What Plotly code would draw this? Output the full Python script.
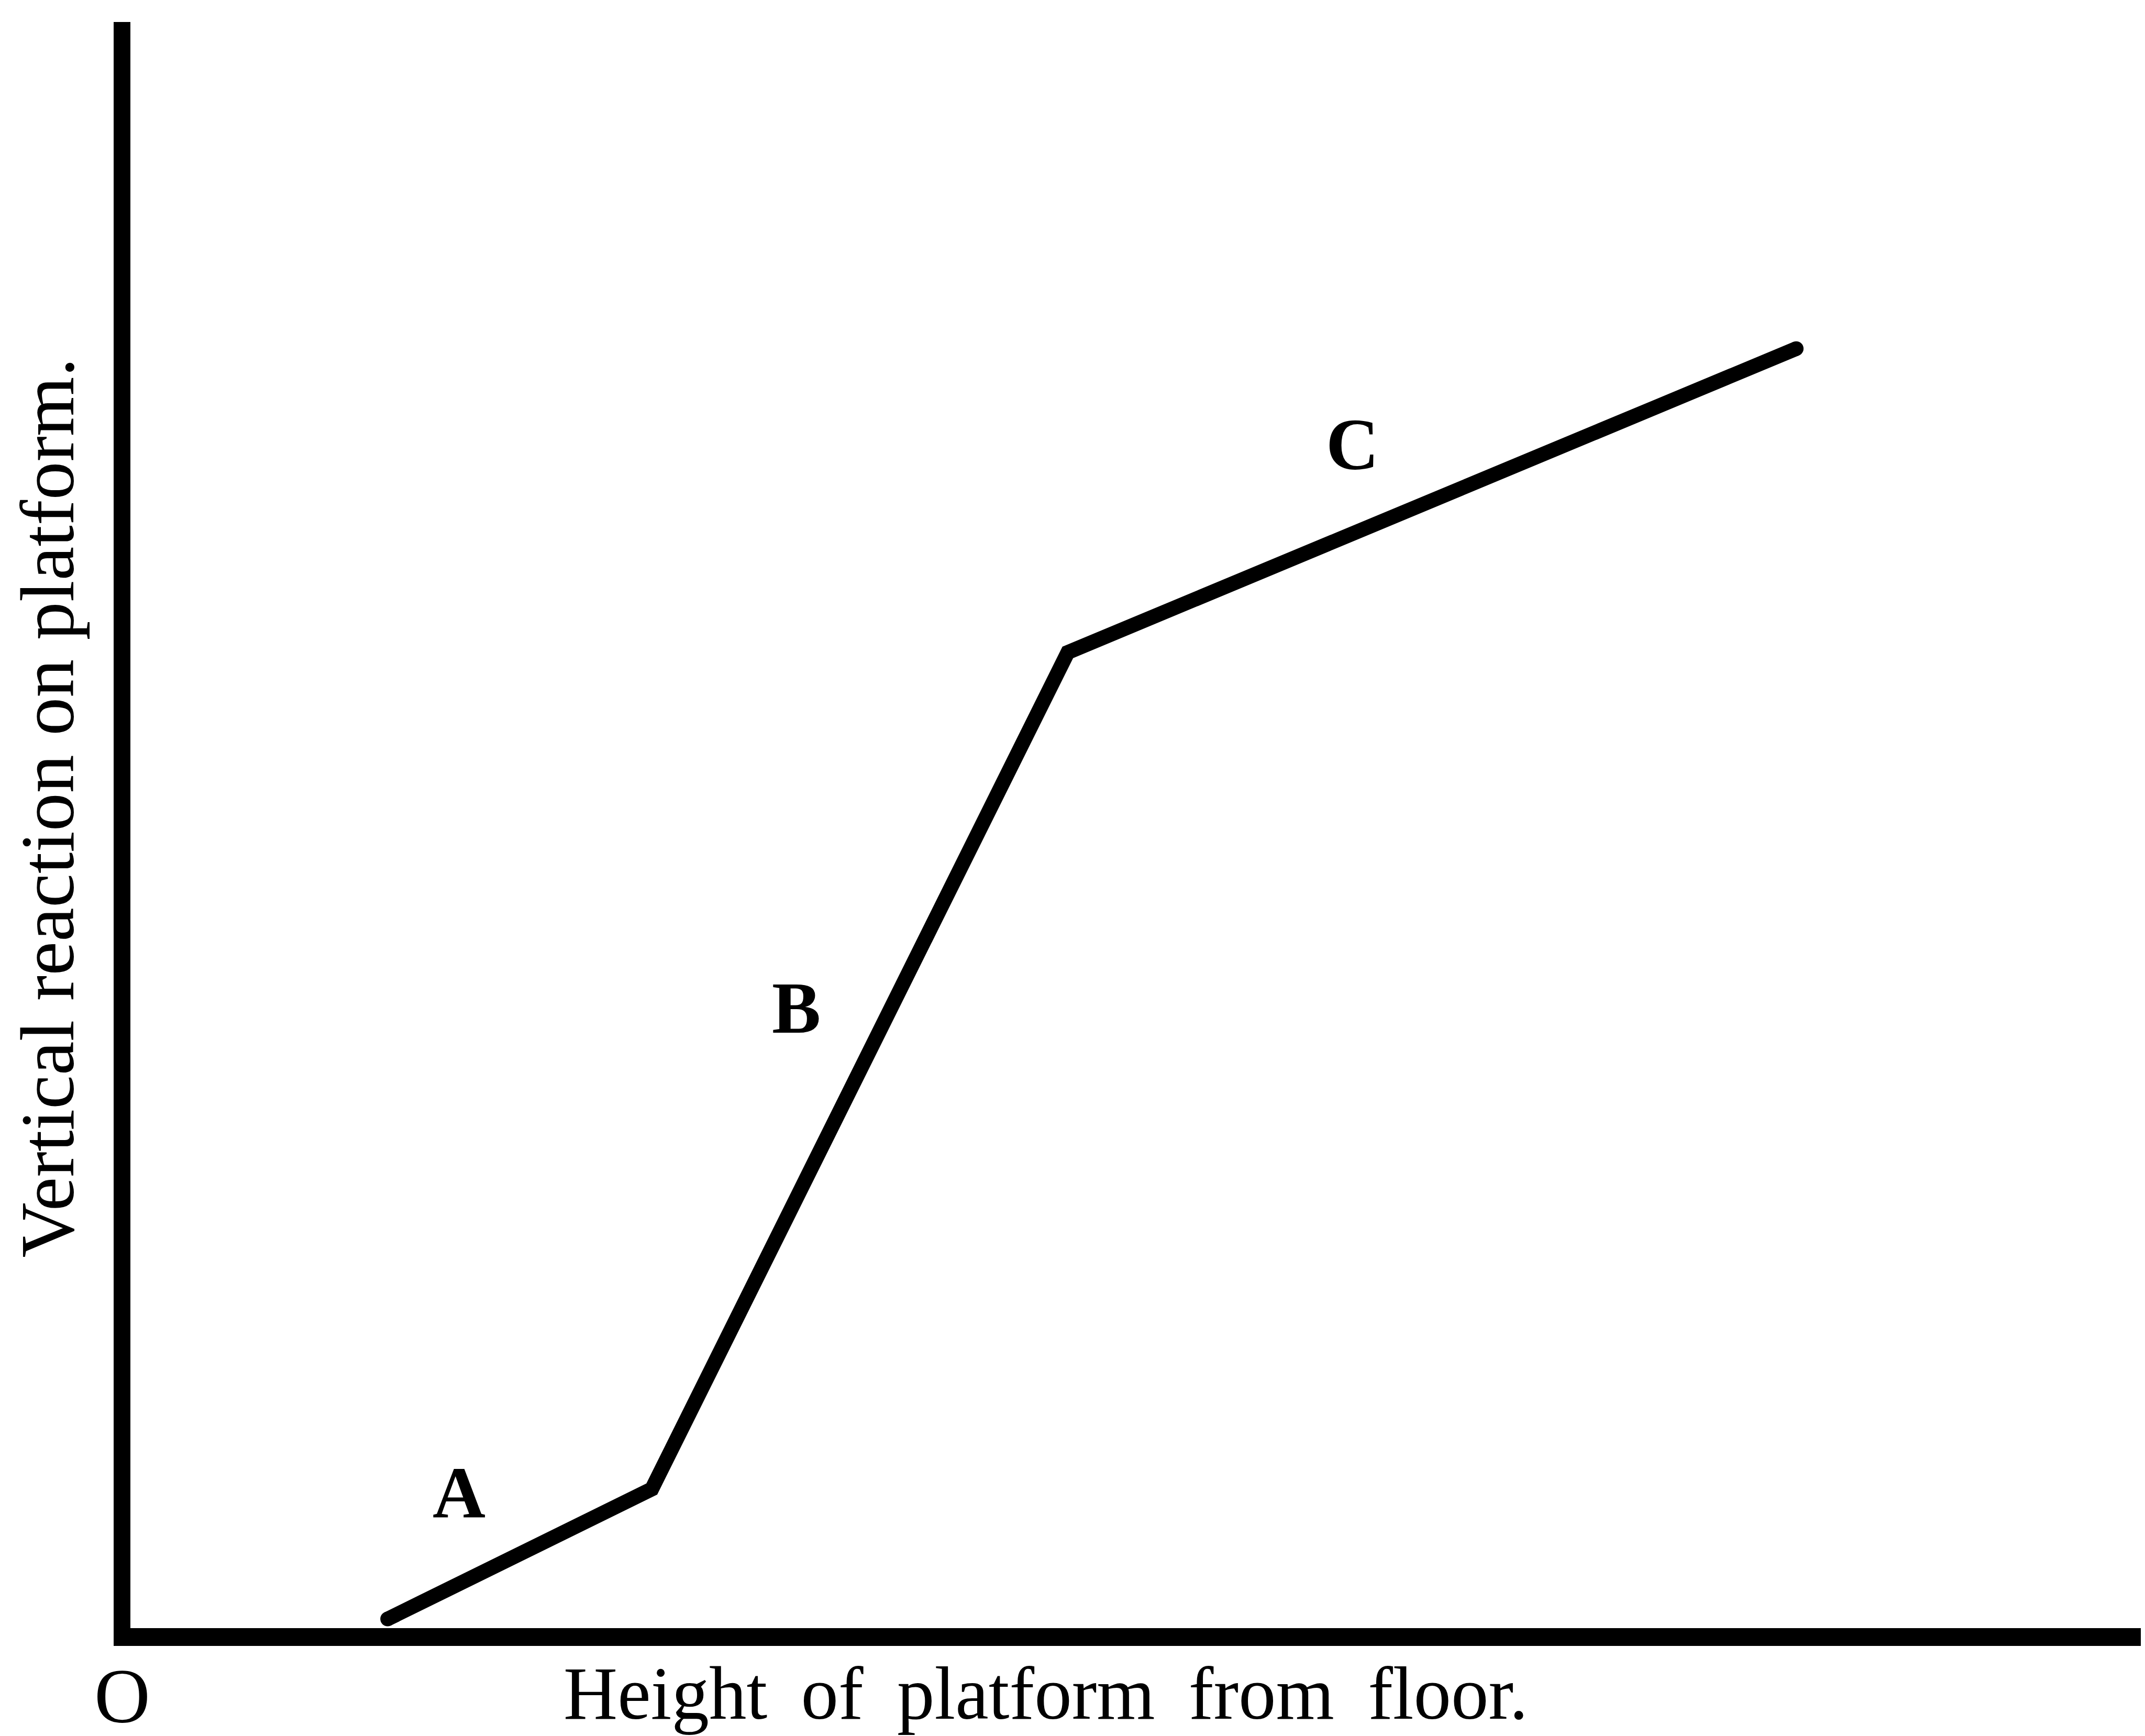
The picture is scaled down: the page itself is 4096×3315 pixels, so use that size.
import plotly.graph_objects as go

# ---- data (units: hundredths of the reference figure, measured from origin O) ----
platform_height = [5.56, 11.09, 19.80, 35.05]
vertical_reaction = [0.38, 3.10, 20.62, 26.98]

segment_labels = ["A", "B", "C"]
label_x = [7.05, 14.12, 25.76]
label_y = [3.02, 13.18, 24.98]

x_title = "Height\u2009 of\u2009 platform\u2009 from\u2009 floor."
y_title = "Vertical reaction on platform."
origin_label = "O"

FONT = "Liberation Serif"

fig = go.Figure()
fig.add_trace(go.Scatter(
    x=platform_height, y=vertical_reaction, mode="lines+markers",
    line=dict(color="black", width=28),
    marker=dict(size=[28, 0, 0, 28], color="black", opacity=1, line=dict(width=0)),
    hoverinfo="skip", showlegend=False,
))

annotations = []
for t, lx, ly in zip(segment_labels, label_x, label_y):
    annotations.append(dict(
        x=lx, y=ly, xref="x", yref="y", text=t, showarrow=False,
        xanchor="center", yanchor="middle",
        font=dict(family=FONT, size=140, color="black", weight="bold"),
    ))

annotations.append(dict(
    x=19.34, y=-0.0295, xref="x", yref="paper", text=x_title, showarrow=False,
    xanchor="center", yanchor="middle",
    font=dict(family=FONT, size=143, color="black"),
))
annotations.append(dict(
    x=0.0, y=-0.031, xref="x", yref="paper", text=origin_label, showarrow=False,
    xanchor="center", yanchor="middle",
    font=dict(family=FONT, size=148, color="black"),
))
annotations.append(dict(
    x=-0.0325, y=17.37, xref="paper", yref="y", text=y_title, showarrow=False,
    textangle=-90, xanchor="center", yanchor="middle",
    font=dict(family=FONT, size=146, color="black"),
))

fig.update_layout(
    width=4096, height=3315,
    margin=dict(l=209, r=0, t=34, b=180, pad=0),
    paper_bgcolor="white", plot_bgcolor="white",
    annotations=annotations,
    xaxis=dict(range=[-0.1765, 42.44], showgrid=False, showticklabels=False,
               ticks="", showline=False, zeroline=True, zerolinecolor="black",
               zerolinewidth=32, fixedrange=True),
    yaxis=dict(range=[-0.185, 33.82], showgrid=False, showticklabels=False,
               ticks="", showline=False, zeroline=True, zerolinecolor="black",
               zerolinewidth=34, fixedrange=True),
)

fig.write_html("out.html")
